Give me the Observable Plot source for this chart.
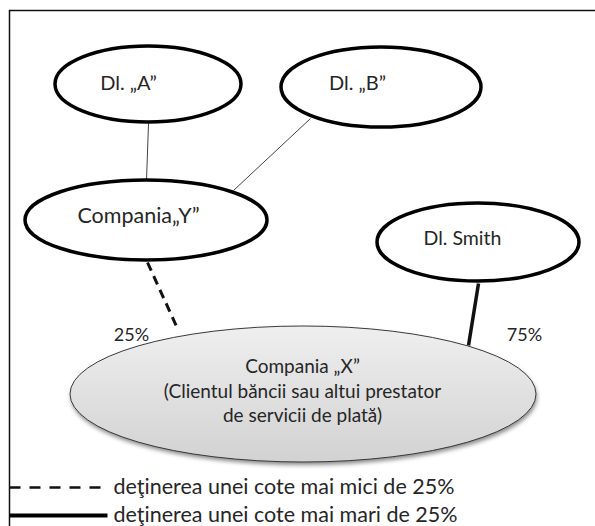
<!DOCTYPE html>
<html><head><meta charset="utf-8">
<script src="https://cdn.jsdelivr.net/npm/d3@7"></script>
<script src="https://cdn.jsdelivr.net/npm/@observablehq/plot@0.6"></script>
<style>html,body{margin:0;padding:0;background:#fff;overflow:hidden}svg{display:block}</style>
</head><body><div id="chart"></div>
<script>
// ---- data ----
const owners = ["Dl. „A”", "Dl. „B”", "Compania„Y”", "Dl. Smith"];
const targetLines = ["Compania „X”", "(Clientul băncii sau altui prestator", "de servicii de plată)"];
const shareValues = [25, 75];
const shareOwners = ["Compania„Y”", "Dl. Smith"];
const legendLabels = ["deţinerea unei cote mai mici de 25%", "deţinerea unei cote mai mari de 25%"];

// ---- diagram layout (diagram coordinates) ----
const W = 595, H = 526;
const ownerLayout = [
  {cx: 148, cy: 84, rx: 93, ry: 38, tx: 128, ty: 83, fs: 20},
  {cx: 381, cy: 87, rx: 100, ry: 40, tx: 357, ty: 83, fs: 20},
  {cx: 146, cy: 220, rx: 121, ry: 40, tx: 138, ty: 216, fs: 21.5},
  {cx: 478, cy: 242, rx: 101, ry: 39, tx: 462, ty: 238, fs: 19.5}
];
const targetLayout = {cx: 303, cy: 394, rx: 233, ry: 68, tx: 302, ty: [366, 391, 415]};
const thinLinks = [
  {x1: 148, y1: 123, x2: 146, y2: 180},
  {x1: 310, y1: 118, x2: 233, y2: 190}
];
const shareLinks = [
  {x1: 147, y1: 262, x2: 177, y2: 328},
  {x1: 478, y1: 283, x2: 468, y2: 345}
];
const shareLabelPos = [{x: 131, y: 335}, {x: 524, y: 335}];
const legendPos = [{x1: 9, x2: 107, y: 487}, {x1: 9, x2: 107, y: 515}];

const ownerRows = owners.map((name, i) => ({name, ...ownerLayout[i]}));
const targetRows = targetLines.map((line, i) => ({line, x: targetLayout.tx, y: targetLayout.ty[i]}));
const shareRows = shareValues.map((v, i) => ({label: v + "%", owner: shareOwners[i], ...shareLabelPos[i], ...shareLinks[i]}));
const legendRows = legendLabels.map((label, i) => ({label, ...legendPos[i]}));

const FONT = "Lato";
const INK = "#262626";

// custom ellipse mark using Plot's scales
const ellipses = (rows, style, defs) => (index, scales) => {
  const {x, y} = scales;
  const g = d3.create("svg:g");
  if (defs) defs(g);
  for (const d of rows) {
    const e = g.append("ellipse")
      .attr("cx", x(d.cx)).attr("cy", y(d.cy))
      .attr("rx", Math.abs(x(d.cx + d.rx) - x(d.cx)))
      .attr("ry", Math.abs(y(d.cy + d.ry) - y(d.cy)));
    for (const [k, v] of Object.entries(style)) e.attr(k, v);
  }
  return g.node();
};

const targetDefs = (g) => {
  const defs = g.append("defs");
  const lg = defs.append("linearGradient").attr("id", "gx").attr("x1", 0).attr("y1", 0).attr("x2", 0).attr("y2", 1);
  lg.append("stop").attr("offset", "0%").attr("stop-color", "#efefef");
  lg.append("stop").attr("offset", "100%").attr("stop-color", "#d2d2d2");
  const f = defs.append("filter").attr("id", "sh").attr("x", "-10%").attr("y", "-10%").attr("width", "120%").attr("height", "130%");
  f.append("feGaussianBlur").attr("stdDeviation", 2);
};

const chart = Plot.plot({
  width: W, height: H, margin: 0,
  x: {domain: [0, W], range: [0, W], axis: null},
  y: {domain: [0, H], range: [0, H], axis: null},
  marks: [
    // frame
    Plot.ruleY([10], {x1: 9, x2: W, stroke: "#111", strokeWidth: 1.5}),
    Plot.ruleX([9], {y1: 10, y2: H, stroke: "#111", strokeWidth: 1.5}),
    // thin links
    Plot.link(thinLinks, {x1: "x1", y1: "y1", x2: "x2", y2: "y2", stroke: "#444", strokeWidth: 1}),
    // share links
    Plot.link(shareRows.filter(d => d.label === "25%"), {x1: "x1", y1: "y1", x2: "x2", y2: "y2", stroke: "#111", strokeWidth: 3, strokeDasharray: "9,6"}),
    Plot.link(shareRows.filter(d => d.label === "75%"), {x1: "x1", y1: "y1", x2: "x2", y2: "y2", stroke: "#111", strokeWidth: 3.5}),
    // target shadow + ellipse
    ellipses([{...targetLayout, cx: targetLayout.cx + 1, cy: targetLayout.cy + 3}], {fill: "#8a8a8a", filter: "url(#sh)"}, targetDefs),
    ellipses([targetLayout], {fill: "url(#gx)", stroke: "#3a3a3a", "stroke-width": 1}),
    // owner ellipses
    ellipses(ownerRows, {fill: "#fff", stroke: "#000", "stroke-width": 3.5}),
    Plot.text(ownerRows, {x: "tx", y: "ty", text: "name", fontFamily: FONT, fontSize: d => d.fs, fill: INK}),
    Plot.text(targetRows, {x: "x", y: "y", text: "line", fontFamily: FONT, fontSize: 19, fill: INK}),
    Plot.text(shareRows, {x: "x", y: "y", text: "label", fontFamily: FONT, fontSize: 18, fill: INK}),
    // legend
    Plot.link(legendRows.slice(0, 1), {x1: "x1", x2: "x2", y1: "y", y2: "y", stroke: "#111", strokeWidth: 2.5, strokeDasharray: "11,9"}),
    Plot.link(legendRows.slice(1), {x1: "x1", x2: "x2", y1: "y", y2: "y", stroke: "#000", strokeWidth: 4}),
    Plot.text(legendRows, {x: d => d.x2 + 6, y: "y", text: "label", textAnchor: "start", fontFamily: FONT, fontSize: 21.5, fill: INK})
  ]
});
document.getElementById("chart").append(chart);
</script>
</body></html>
